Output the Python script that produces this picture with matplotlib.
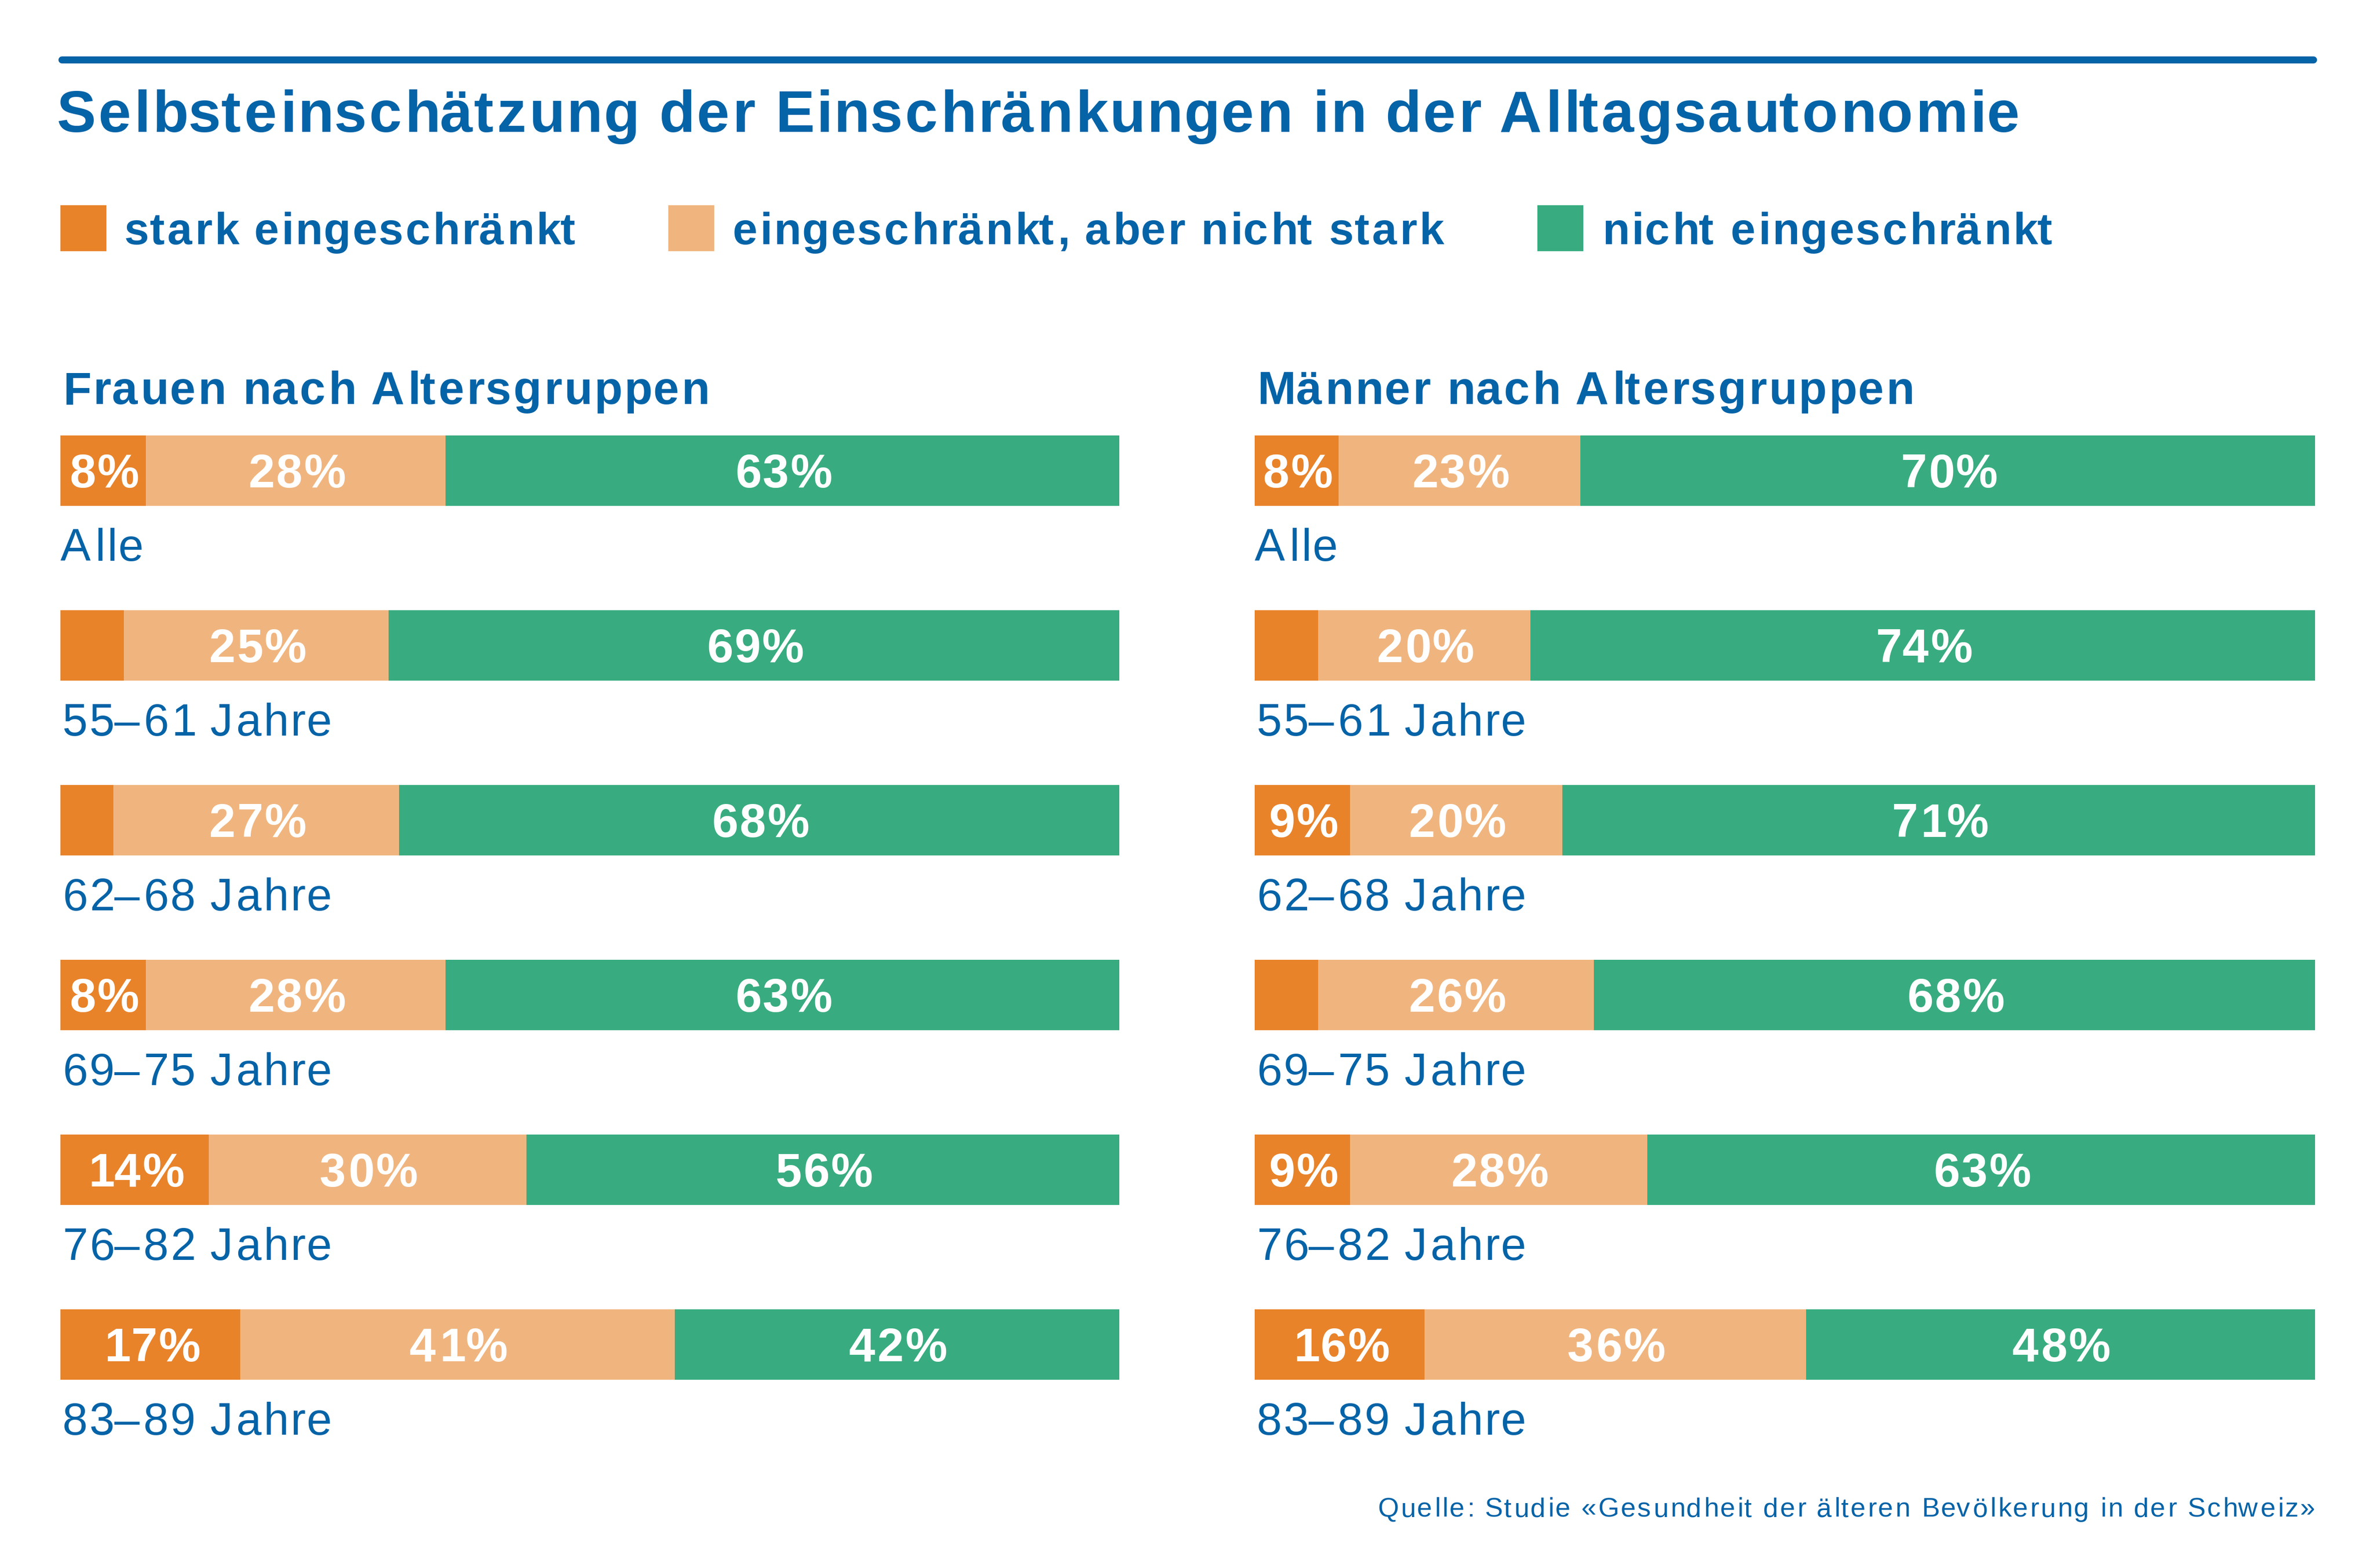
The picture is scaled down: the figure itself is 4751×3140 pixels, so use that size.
import numpy as np
import matplotlib
matplotlib.use("Agg")
import matplotlib.pyplot as plt
from matplotlib.lines import Line2D
from matplotlib.patches import Rectangle
from matplotlib.font_manager import findfont, FontProperties
from matplotlib.ft2font import FT2Font
from matplotlib.transforms import offset_copy

try:
    from matplotlib.ft2font import LoadFlags
    NOHINT = LoadFlags.NO_HINTING
except ImportError:
    from matplotlib.ft2font import LOAD_NO_HINTING as NOHINT

plt.rcParams["font.family"] = ["Liberation Sans", "DejaVu Sans"]

# data
gruppen = ["Alle", "55–61 Jahre", "62–68 Jahre", "69–75 Jahre", "76–82 Jahre", "83–89 Jahre"]
frauen_stark = [8, 6, 5, 8, 14, 17]
frauen_mittel = [28, 25, 27, 28, 30, 41]
frauen_nicht = [63, 69, 68, 63, 56, 42]
maenner_stark = [8, 6, 9, 6, 9, 16]
maenner_mittel = [23, 20, 20, 26, 28, 36]
maenner_nicht = [70, 74, 71, 68, 63, 48]
kategorien = ["stark eingeschränkt", "eingeschränkt, aber nicht stark", "nicht eingeschränkt"]

BLUE = "#0563a7"
colors = ["#e8832a", "#f0b57f", "#38ac80"]

W, H = 4751, 3140
fig = plt.figure(figsize=(W / 300, H / 300), dpi=300)

def fx(px):
    return px / W

def fy(py):
    return 1 - py / H

# the original typesetting has a little extra letter spacing
TRACK = 0.84  # points
_fonts = {}

def glyph_metrics(s, size, weight):
    if weight not in _fonts:
        _fonts[weight] = FT2Font(findfont(FontProperties(family="Liberation Sans", weight=weight)))
    f = _fonts[weight]
    f.set_size(size, 72)
    out = []
    for c in s:
        g = f.load_char(ord(c), flags=NOHINT)
        out.append((g.linearHoriAdvance / 65536, g.horiBearingX / 64))
    return out

def tracked(x, y, s, size, weight="normal", ha="left", color=BLUE, transform=None):
    if transform is None:
        transform = fig.transFigure
    m = glyph_metrics(s, size, weight)
    total = sum(a for a, _ in m) + TRACK * (len(s) - 1)
    pos = {"left": 0, "center": -total / 2, "right": -total}[ha]
    for c, (adv, lsb) in zip(s, m):
        if c != " ":
            tr = offset_copy(transform, fig=fig, x=pos + lsb, y=0, units="points")
            fig.text(x, y, c, transform=tr, fontsize=size, fontweight=weight, color=color,
                     ha="left", va="baseline")
        pos += adv + TRACK

# top rule
fig.add_artist(Line2D([fx(124), fx(4632)], [fy(120), fy(120)], color=BLUE, lw=3.36,
                      solid_capstyle="round", transform=fig.transFigure))

tracked(fx(110), fy(264), "Selbsteinschätzung der Einschränkungen in der Alltagsautonomie",
        28.2, "bold")

# legend
leg_x = [121, 1338, 3078]
for x, lab, c in zip(leg_x, kategorien, colors):
    fig.add_artist(Rectangle((fx(x), fy(503)), 92 / W, 92 / H, color=c, lw=0,
                             transform=fig.transFigure))
    tracked(fx(x + 125), fy(489), lab, 21.4, "bold")

BAR_H = 141 / 350

def panel(left, right, title, werte):
    top, bottom = 872, 872 + (len(gruppen) - 1) * 350 + 141
    ax = fig.add_axes([fx(left), fy(bottom), (right - left) / W, (bottom - top) / H])
    y = np.arange(len(gruppen))
    data = np.array(werte, dtype=float)
    shares = data / data.sum(axis=0)
    start = np.zeros(len(gruppen))
    for k in range(3):
        ax.barh(y, shares[k], left=start, height=BAR_H, color=colors[k], linewidth=0)
        start += shares[k]
    ax.set_xlim(0, 1)
    ax.set_ylim(len(gruppen) - 1 + BAR_H / 2, -BAR_H / 2)
    ax.axis("off")
    start = np.zeros(len(gruppen))
    for k in range(3):
        for i in range(len(gruppen)):
            if data[k, i] >= 8:
                tracked(start[i] + shares[k, i] / 2, y[i] + 0.0957, f"{int(data[k, i])}%",
                        22.6, "bold", ha="center", color="white", transform=ax.transData)
        start += shares[k]
    for i, g in enumerate(gruppen):
        tracked(0, y[i] + 0.5157, g, 21.8, "normal", transform=ax.transData)
    tracked(fx(left), fy(809), title, 22.2, "bold")

panel(121, 2241, "Frauen nach Altersgruppen", [frauen_stark, frauen_mittel, frauen_nicht])
panel(2512, 4635, "Männer nach Altersgruppen", [maenner_stark, maenner_mittel, maenner_nicht])

tracked(fx(4633), fy(3037), "Quelle: Studie «Gesundheit der älteren Bevölkerung in der Schweiz»",
        13, "normal", ha="right")

fig.savefig("out.png", dpi=300, facecolor="white")
